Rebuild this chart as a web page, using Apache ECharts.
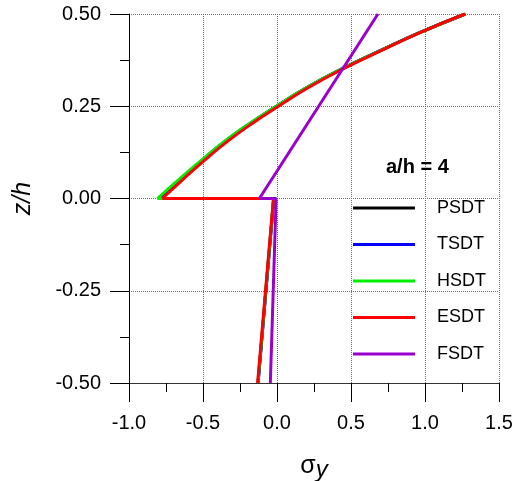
<!DOCTYPE html>
<html>
<head>
<meta charset="utf-8">
<script src="https://cdn.jsdelivr.net/npm/echarts@6/dist/echarts.min.js"></script>
<style>
    html, body { margin: 0; padding: 0; background: #fff; }
    #chart { width: 520px; height: 481px; }
</style>
</head>
<body>
<div id="chart"></div>
<script>
    // z/h stations of the upper layer, and the two ends of the lower layer
    var zUpper = [0, 0.05, 0.1, 0.15, 0.2, 0.25, 0.3, 0.35, 0.4, 0.45, 0.5];
    var zLower = [-0.5, 0];

    // sigma_y
    var psdtUpper = [-0.80, -0.66, -0.515, -0.365, -0.193, -0.002, 0.20, 0.432, 0.694, 0.967, 1.27];
    var tsdtUpper = [-0.80, -0.662, -0.517, -0.367, -0.195, -0.004, 0.198, 0.431, 0.694, 0.968, 1.275];
    var hsdtUpper = [-0.808, -0.668, -0.522, -0.371, -0.198, -0.006, 0.197, 0.431, 0.695, 0.970, 1.272];
    var esdtUpper = [-0.775, -0.64, -0.50, -0.35, -0.18, 0.01, 0.21, 0.44, 0.70, 0.97, 1.27];
    var fsdtUpper = [-0.119, 0.682];
    var fsdtZ = [0, 0.5];

    var psdtLower = [-0.128, -0.022];
    var tsdtLower = [-0.128, -0.022];
    var hsdtLower = [-0.129, -0.023];
    var esdtLower = [-0.131, -0.024];
    var fsdtLower = [-0.045, -0.006];

    var names = ['PSDT', 'TSDT', 'HSDT', 'ESDT', 'FSDT'];
    var colors = ['#000000', '#0000ff', '#00ee00', '#ff0000', '#9900cc'];
    var xTicks = [-1.0, -0.5, 0.0, 0.5, 1.0, 1.5];
    var yTicks = [-0.50, -0.25, 0.00, 0.25, 0.50];

    // lower layer plus the jump along z = 0
    function lowerPart(lower, upper) {
        return [[lower[0], zLower[0]], [lower[1], zLower[1]], [upper[0], 0]];
    }
    function upperPart(upper, zs) {
        return upper.map(function (v, i) { return [v, zs[i]]; });
    }

    var lowers = [
        lowerPart(psdtLower, psdtUpper),
        lowerPart(tsdtLower, tsdtUpper),
        lowerPart(hsdtLower, hsdtUpper),
        lowerPart(esdtLower, esdtUpper),
        lowerPart(fsdtLower, fsdtUpper)
    ];
    var uppers = [
        upperPart(psdtUpper, zUpper),
        upperPart(tsdtUpper, zUpper),
        upperPart(hsdtUpper, zUpper),
        upperPart(esdtUpper, zUpper),
        upperPart(fsdtUpper, fsdtZ)
    ];

    var font = '"Liberation Sans", Arial, sans-serif';
    var myChart = echarts.init(document.getElementById('chart'));

    var series = [];
    names.forEach(function (n, i) {
        series.push({
            name: n, type: 'line', data: lowers[i], symbol: 'none',
            lineStyle: { color: colors[i], width: 3 }, itemStyle: { color: colors[i] }, z: 2 + i
        });
        series.push({
            name: n, type: 'line', data: uppers[i], symbol: 'none', smooth: 0.5,
            lineStyle: { color: colors[i], width: 3 }, itemStyle: { color: colors[i] }, z: 2 + i
        });
    });

    var option = {
        animation: false,
        title: {
            text: 'a/h = 4',
            left: 386,
            top: 157,
            padding: 0,
            textStyle: { fontFamily: font, fontSize: 20, fontWeight: 'bold', color: '#000' }
        },
        legend: {
            data: names.map(function (n) { return { name: n, icon: 'rect' }; }),
            orient: 'vertical',
            left: 353,
            top: 198,
            padding: 0,
            itemWidth: 62,
            itemHeight: 3,
            itemGap: 16.5,
            textStyle: { fontFamily: font, fontSize: 18, lineHeight: 20, color: '#000', padding: [0, 0, 0, 17] }
        },
        grid: { left: 129, right: 21, top: 14, bottom: 98, containLabel: false, outerBoundsMode: 'none' },
        xAxis: {
            type: 'value',
            min: xTicks[0],
            max: xTicks[xTicks.length - 1],
            interval: 0.5,
            name: '{s|σ}{y|y}',
            nameLocation: 'middle',
            nameGap: 67,
            nameTextStyle: {
                rich: {
                    s: { fontFamily: font, fontSize: 25, color: '#000' },
                    y: { fontFamily: font, fontSize: 24, fontStyle: 'italic', color: '#000', padding: [8, 0, 0, 0] }
                }
            },
            axisLine: { onZero: false, lineStyle: { color: '#333', width: 1 } },
            axisTick: { length: 19, lineStyle: { color: '#000' } },
            minorTick: { show: true, splitNumber: 2, length: 9, lineStyle: { color: '#000' } },
            axisLabel: {
                margin: 30,
                fontFamily: font,
                fontSize: 20,
                color: '#000',
                formatter: function (v) { return v.toFixed(1); }
            },
            splitLine: { show: true, lineStyle: { color: '#707070', type: 'dotted', width: 1 } }
        },
        yAxis: {
            type: 'value',
            min: yTicks[0],
            max: yTicks[yTicks.length - 1],
            interval: 0.25,
            name: 'z/h',
            nameLocation: 'middle',
            nameGap: 93,
            nameTextStyle: { fontFamily: font, fontSize: 25, fontStyle: 'italic', color: '#000' },
            axisLine: { show: true, onZero: false, lineStyle: { color: '#000', width: 1 } },
            axisTick: { show: true, length: 19, lineStyle: { color: '#000' } },
            minorTick: { show: true, splitNumber: 2, length: 9, lineStyle: { color: '#000' } },
            axisLabel: {
                margin: 28,
                fontFamily: font,
                fontSize: 20,
                color: '#000',
                formatter: function (v) { return v.toFixed(2); }
            },
            splitLine: { show: true, lineStyle: { color: '#707070', type: 'dotted', width: 1 } }
        },
        series: series
    };

    myChart.setOption(option);
</script>
</body>
</html>
